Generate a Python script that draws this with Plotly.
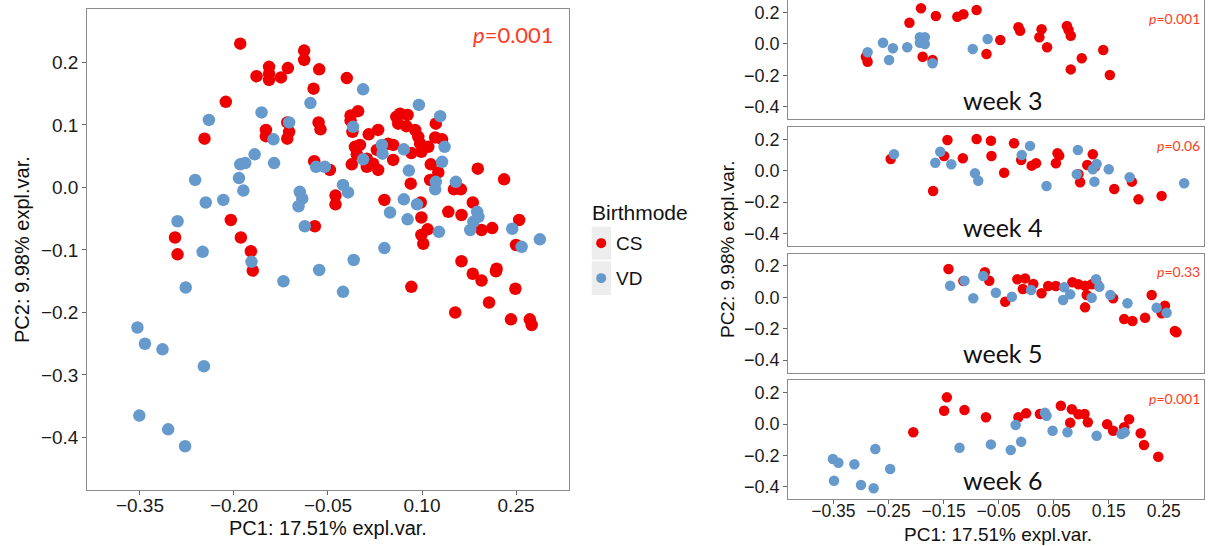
import plotly.graph_objects as go

# ---- PCA scores, all samples (PC1, PC2) ----
all_cs_x = [-0.190, -0.088, -0.088, -0.144, -0.144, -0.144, -0.164, -0.125, -0.114, -0.064,
            -0.020, -0.073, -0.213, -0.247, -0.149, -0.149, -0.115, -0.112, -0.115, -0.065,
            -0.062, -0.072, -0.047, -0.038, -0.038, -0.205, -0.294, -0.189, -0.071, -0.290,
            -0.173, -0.170, -0.002, -0.014, -0.014, -0.011, 0.015, 0.030, -0.007, 0.001,
            -0.004, -0.012, 0.012, 0.022, 0.030, 0.012, 0.028, 0.046, 0.054, 0.054,
            0.059, 0.065, 0.077, 0.062, 0.075, 0.089, 0.094, 0.097, 0.083, 0.099,
            0.110, 0.122, 0.121, 0.132, 0.114, 0.126, 0.113, 0.082, 0.189, 0.231,
            0.151, 0.162, 0.040, 0.098, 0.142, 0.163, 0.181, 0.099, 0.109, 0.099,
            0.102, 0.195, 0.212, 0.255, 0.250, 0.163, 0.181, 0.195, 0.219, 0.218,
            0.083, 0.249, 0.207, 0.153, 0.242, 0.272, 0.275]
all_cs_y = [0.230, 0.219, 0.204, 0.193, 0.182, 0.172, 0.178, 0.176, 0.191, 0.189,
            0.175, 0.158, 0.137, 0.078, 0.092, 0.082, 0.104, 0.089, 0.078, 0.104,
            0.093, 0.042, 0.028, -0.013, -0.027, -0.052, -0.080, -0.080, -0.062, -0.107,
            -0.102, -0.133, 0.122, 0.115, 0.107, 0.089, 0.085, 0.092, 0.065, 0.068,
            0.053, 0.037, 0.046, 0.038, 0.028, 0.033, 0.060, 0.070, 0.068, 0.044,
            0.113, 0.118, 0.116, 0.102, 0.098, 0.092, 0.081, 0.070, 0.055, 0.057,
            0.065, 0.102, 0.080, 0.077, 0.037, 0.024, 0.012, 0.006, 0.030, 0.013,
            -0.003, -0.003, -0.020, -0.024, -0.039, -0.044, -0.024, -0.048, -0.067, -0.076,
            -0.090, -0.068, -0.065, -0.052, -0.092, -0.118, -0.138, -0.149, -0.130, -0.134,
            -0.159, -0.162, -0.184, -0.200, -0.211, -0.211, -0.220]
all_vd_x = [-0.156, -0.240, -0.078, -0.112, -0.137, -0.136, -0.167, -0.190, -0.182, -0.192,
            -0.185, -0.262, -0.245, -0.217, -0.290, -0.069, -0.055, -0.095, -0.091, -0.097,
            -0.026, -0.018, -0.087, -0.250, 0.006, 0.095, 0.129, -0.010, 0.036, 0.037,
            0.006, 0.071, 0.136, 0.132, 0.079, 0.122, 0.121, 0.154, 0.071, 0.049,
            0.077, 0.092, 0.188, 0.190, 0.182, 0.177, 0.127, 0.244, 0.288, 0.259,
            0.040, -0.172, -0.277, -0.121, -0.064, -0.026, -0.009, -0.354, -0.342, -0.314,
            -0.248, -0.351, -0.305, -0.278]
all_vd_y = [0.120, 0.108, 0.135, 0.104, 0.077, 0.039, 0.053, 0.037, 0.039, 0.015,
            -0.005, 0.012, -0.024, -0.020, -0.054, 0.033, 0.033, -0.007, -0.018, -0.030,
            0.004, -0.008, -0.062, -0.103, 0.157, 0.132, 0.114, 0.097, 0.068, 0.054,
            0.045, 0.061, 0.065, 0.041, 0.027, 0.009, -0.003, 0.009, -0.019, -0.040,
            -0.051, -0.027, -0.039, -0.047, -0.055, -0.068, -0.071, -0.066, -0.083, -0.095,
            -0.097, -0.119, -0.160, -0.150, -0.132, -0.167, -0.116, -0.224, -0.250, -0.259,
            -0.286, -0.365, -0.387, -0.414]

# ---- per-week scores ----
w3_cs_x = [-0.291, -0.288, -0.212, -0.191, -0.164, -0.188, -0.170, -0.125, -0.114, -0.090,
           -0.072, -0.047, -0.014, -0.011, 0.028, 0.024, 0.038, 0.074, 0.077, 0.081,
           0.081, 0.101, 0.140, 0.152]
w3_cs_y = [-0.081, -0.113, 0.136, 0.228, 0.179, -0.081, -0.102, 0.174, 0.190, 0.217,
           -0.064, 0.026, 0.107, 0.085, 0.094, 0.043, -0.021, 0.115, 0.089, 0.053,
           -0.162, -0.091, -0.038, -0.198]
w3_vd_x = [-0.288, -0.260, -0.242, -0.249, -0.216, -0.193, -0.184, -0.193, -0.184, -0.170,
           -0.097, -0.070]
w3_vd_y = [-0.053, 0.008, -0.027, -0.102, -0.021, 0.043, 0.043, 0.008, 0.000, -0.123,
           -0.032, 0.032]

w4_cs_x = [-0.246, -0.169, -0.149, -0.143, -0.115, -0.090, -0.064, -0.063, -0.040, -0.022,
           -0.009, 0.010, 0.018, 0.054, 0.057, 0.060, 0.095, 0.098, 0.111, 0.121,
           0.125, 0.160, 0.192, 0.204, 0.246]
w4_cs_y = [0.075, -0.130, 0.094, 0.196, 0.079, 0.202, 0.191, 0.094, -0.013, 0.175,
           0.068, 0.032, 0.047, 0.047, 0.111, 0.096, -0.023, -0.074, 0.036, 0.105,
           0.026, -0.117, -0.070, -0.183, -0.161]
w4_vd_x = [-0.240, -0.165, -0.156, -0.136, -0.093, -0.087, -0.008, 0.007, 0.037, 0.094,
           0.092, 0.121, 0.128, 0.124, 0.150, 0.188, 0.287]
w4_vd_y = [0.105, 0.051, 0.121, 0.041, -0.017, -0.064, 0.100, 0.158, -0.098, 0.132,
           -0.023, 0.009, 0.043, -0.070, 0.009, -0.042, -0.080]

w5_cs_x = [-0.141, -0.114, -0.075, -0.067, -0.038, -0.016, -0.002, -0.006, 0.013, 0.028,
           0.040, 0.054, 0.084, 0.095, 0.107, 0.110, 0.107, 0.119, 0.130, 0.158,
           0.178, 0.193, 0.216, 0.228, 0.246, 0.252, 0.270, 0.273]
w5_cs_y = [0.181, 0.104, 0.160, 0.106, -0.028, 0.115, 0.121, 0.053, 0.085, 0.026,
           0.072, 0.072, 0.096, 0.083, 0.074, 0.015, -0.064, 0.083, 0.079, -0.006,
           -0.139, -0.151, -0.130, 0.015, -0.102, -0.054, -0.215, -0.223]
w5_vd_x = [-0.138, -0.112, -0.096, -0.078, -0.055, -0.026, 0.009, 0.069, 0.067, 0.080,
           0.119, 0.127, 0.133, 0.153, 0.184, 0.237, 0.255]
w5_vd_y = [0.074, 0.106, -0.006, 0.136, 0.029, 0.004, 0.047, 0.064, -0.017, 0.019,
           -0.003, 0.115, 0.068, 0.015, -0.038, -0.066, -0.098]

w6_cs_x = [-0.205, -0.144, -0.149, -0.112, -0.073, -0.014, 0.000, 0.025, 0.063, 0.083,
           0.095, 0.106, 0.080, 0.112, 0.147, 0.158, 0.178, 0.187, 0.208, 0.214, 0.240]
w6_cs_y = [-0.053, 0.170, 0.085, 0.089, 0.043, 0.043, 0.068, 0.064, 0.117, 0.094,
           0.062, 0.064, 0.008, 0.011, -0.002, -0.043, -0.021, 0.030, -0.059, -0.134, -0.209]
w6_vd_x = [-0.351, -0.341, -0.312, -0.349, -0.300, -0.277, -0.274, -0.247, -0.121, -0.064,
           -0.028, -0.009, -0.019, 0.034, 0.037, 0.048, 0.075, 0.128, 0.173, 0.179]
w6_vd_y = [-0.223, -0.247, -0.257, -0.362, -0.389, -0.410, -0.160, -0.287, -0.151, -0.130,
           -0.166, -0.113, -0.006, 0.072, 0.053, -0.043, -0.053, -0.075, -0.064, -0.053]

week_labels = ["week 3", "week 4", "week 5", "week 6"]
week_pvalues = ["0.001", "0.06", "0.33", "0.001"]
overall_pvalue = "0.001"
group_names = ["CS", "VD"]
legend_title = "Birthmode"
x_title = "PC1: 17.51% expl.var."
y_title = "PC2: 9.98% expl.var."
left_xticks = [-0.35, -0.20, -0.05, 0.10, 0.25]
left_yticks = [-0.4, -0.3, -0.2, -0.1, 0.0, 0.1, 0.2]
right_xticks = [-0.35, -0.25, -0.15, -0.05, 0.05, 0.15, 0.25]
right_yticks = [-0.4, -0.2, 0.0, 0.2]

# ---- styling ----
W, H = 1209, 546
RED = "#EE0000"
BLUE = "#6699CC"
P_COLOR = "#FF3B1F"
BORDER = "#8c8c8c"
SANS = "Liberation Sans, Arial, sans-serif"
HUMAN = "Lato, Open Sans, sans-serif"


def fx(px):
    return px / W


def fy(py):
    return 1 - py / H


fig = go.Figure()

# main (all samples) panel
fig.add_trace(go.Scatter(x=all_cs_x, y=all_cs_y, mode="markers", name=group_names[0],
                         marker=dict(color=RED, size=12.5, line=dict(width=0)),
                         xaxis="x", yaxis="y", showlegend=False))
fig.add_trace(go.Scatter(x=all_vd_x, y=all_vd_y, mode="markers", name=group_names[1],
                         marker=dict(color=BLUE, size=12.5, line=dict(width=0)),
                         xaxis="x", yaxis="y", showlegend=False))

# faceted week panels
week_data = [(w3_cs_x, w3_cs_y, w3_vd_x, w3_vd_y),
             (w4_cs_x, w4_cs_y, w4_vd_x, w4_vd_y),
             (w5_cs_x, w5_cs_y, w5_vd_x, w5_vd_y),
             (w6_cs_x, w6_cs_y, w6_vd_x, w6_vd_y)]
for i, (cx, cy, vx, vy) in enumerate(week_data):
    xa = "x%d" % (i + 2)
    ya = "y%d" % (i + 2)
    fig.add_trace(go.Scatter(x=cx, y=cy, mode="markers", name=group_names[0],
                             marker=dict(color=RED, size=10.5, line=dict(width=0)),
                             xaxis=xa, yaxis=ya, showlegend=False))
    fig.add_trace(go.Scatter(x=vx, y=vy, mode="markers", name=group_names[1],
                             marker=dict(color=BLUE, size=10.5, line=dict(width=0)),
                             xaxis=xa, yaxis=ya, showlegend=False))

axis_common = dict(showline=True, mirror=True, linecolor=BORDER, linewidth=1.2,
                   ticks="outside", ticklen=4, tickwidth=1, tickcolor="#666666",
                   showgrid=False, zeroline=False,
                   tickfont=dict(family=SANS, size=19, color="#1a1a1a"))

layout = dict(
    width=W, height=H, margin=dict(l=0, r=0, t=0, b=0),
    paper_bgcolor="white", plot_bgcolor="white", showlegend=False,
    xaxis=dict(axis_common, domain=[fx(87.3), fx(569.3)], range=[-0.434, 0.335],
               tickvals=left_xticks, tickformat=".2f", anchor="y",
               ticklabelstandoff=-6),
    yaxis=dict(axis_common, domain=[fy(490), fy(9.3)], range=[-0.484, 0.285],
               tickvals=left_yticks, tickformat=".1f", anchor="x"),
)

# right facet panels: zero line of panel i sits at 44 + 126.67*i px
panel_range = [-0.48, 0.278]
for i in range(4):
    zero_px = 44 + 126.67 * i
    top_px = zero_px - panel_range[1] * 156.7
    bot_px = zero_px - panel_range[0] * 156.7
    xa = dict(axis_common, domain=[fx(788.3), fx(1204)], range=[-0.432, 0.323],
              tickvals=right_xticks, tickformat=".2f", anchor="y%d" % (i + 2),
              tickfont=dict(family=SANS, size=17.5, color="#1a1a1a"),
              ticklabelstandoff=-8)
    if i > 0:
        xa["matches"] = "x2"
    if i < 3:
        xa["showticklabels"] = False
        xa["ticks"] = ""
    ya = dict(axis_common, domain=[fy(bot_px), fy(top_px)], range=panel_range,
              tickvals=right_yticks, tickformat=".1f", anchor="x%d" % (i + 2),
              tickfont=dict(family=SANS, size=18, color="#1a1a1a"))
    layout["xaxis%d" % (i + 2)] = xa
    layout["yaxis%d" % (i + 2)] = ya

fig.update_layout(**layout)

annotations = []
# axis titles
annotations.append(dict(text=x_title, x=fx(328), y=fy(528), xref="paper", yref="paper",
                        showarrow=False, font=dict(family=SANS, size=20, color="#111111"),
                        xanchor="center", yanchor="middle"))
annotations.append(dict(text=y_title, x=fx(22), y=fy(250), xref="paper", yref="paper",
                        showarrow=False, textangle=-90,
                        font=dict(family=SANS, size=20, color="#111111"),
                        xanchor="center", yanchor="middle"))
annotations.append(dict(text=x_title, x=fx(998), y=fy(534), xref="paper", yref="paper",
                        showarrow=False, font=dict(family=SANS, size=19, color="#111111"),
                        xanchor="center", yanchor="middle"))
annotations.append(dict(text=y_title, x=fx(728), y=fy(250), xref="paper", yref="paper",
                        showarrow=False, textangle=-90,
                        font=dict(family=SANS, size=19, color="#111111"),
                        xanchor="center", yanchor="middle"))
# overall p value
annotations.append(dict(text="<i>p</i>=" + overall_pvalue, x=fx(556), y=fy(34),
                        xref="paper", yref="paper", showarrow=False,
                        font=dict(family=HUMAN, size=22, color=P_COLOR),
                        xanchor="right", yanchor="middle"))
# facet labels and p values
for i in range(4):
    zero_px = 44 + 126.67 * i
    annotations.append(dict(text="<i>p</i>=" + week_pvalues[i], x=fx(1202),
                            y=fy(zero_px - 25.5), xref="paper", yref="paper",
                            showarrow=False, font=dict(family=HUMAN, size=14, color=P_COLOR),
                            xanchor="right", yanchor="middle"))
    annotations.append(dict(text=week_labels[i], x=fx(1002), y=fy(zero_px + 56),
                            xref="paper", yref="paper", showarrow=False,
                            font=dict(family=HUMAN, size=25, color="#111111"),
                            xanchor="center", yanchor="middle"))

# legend
annotations.append(dict(text=legend_title, x=fx(590), y=fy(213), xref="paper", yref="paper",
                        showarrow=False, font=dict(family=SANS, size=21, color="#111111"),
                        xanchor="left", yanchor="middle"))
legend_rows = [(group_names[0], RED, 226.7, 259.6), (group_names[1], BLUE, 261.3, 295)]
shapes = []
for name, col, top, bot in legend_rows:
    cy = (top + bot) / 2
    shapes.append(dict(type="rect", xref="paper", yref="paper", x0=fx(591.7), x1=fx(611),
                       y0=fy(bot), y1=fy(top), fillcolor="#EDEDED", line=dict(width=0)))
    shapes.append(dict(type="circle", xref="paper", yref="paper", x0=fx(596.2), x1=fx(606.2),
                       y0=fy(cy + 5), y1=fy(cy - 5), fillcolor=col, line=dict(width=0)))
    annotations.append(dict(text=name, x=fx(614), y=fy(cy), xref="paper", yref="paper",
                            showarrow=False, font=dict(family=SANS, size=19, color="#111111"),
                            xanchor="left", yanchor="middle"))

fig.update_layout(annotations=annotations, shapes=shapes)

fig.write_html("out.html")
